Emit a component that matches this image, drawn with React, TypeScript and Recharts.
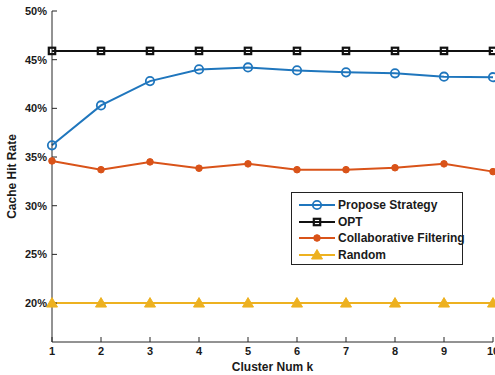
import React from "react";
import {
  LineChart,
  Line,
  XAxis,
  YAxis,
  Label,
} from "recharts";

const clusterK = [1, 2, 3, 4, 5, 6, 7, 8, 9, 10];
const proposeStrategy = [36.2, 40.3, 42.8, 44.0, 44.2, 43.9, 43.7, 43.6, 43.25, 43.2];
const optRate = [45.9, 45.9, 45.9, 45.9, 45.9, 45.9, 45.9, 45.9, 45.9, 45.9];
const collabFiltering = [34.6, 33.7, 34.5, 33.85, 34.3, 33.7, 33.7, 33.9, 34.3, 33.5];
const randomRate = [20, 20, 20, 20, 20, 20, 20, 20, 20, 20];
const yTicks = [20, 25, 30, 35, 40, 45, 50];

const data = clusterK.map((k, i) => ({
  k,
  propose: proposeStrategy[i],
  opt: optRate[i],
  cf: collabFiltering[i],
  random: randomRate[i],
}));

const FONT = "'Liberation Sans', Arial, Helvetica, sans-serif";
const AXIS = "#262626";

type Marker = "circle" | "square" | "dot" | "triangle";

const series: { key: string; name: string; color: string; marker: Marker }[] = [
  { key: "propose", name: "Propose Strategy", color: "#1F76BD", marker: "circle" },
  { key: "opt", name: "OPT", color: "#111111", marker: "square" },
  { key: "cf", name: "Collaborative Filtering", color: "#D95319", marker: "dot" },
  { key: "random", name: "Random", color: "#EDB120", marker: "triangle" },
];

function drawMarker(marker: Marker, color: string, cx: number, cy: number, key?: string) {
  switch (marker) {
    case "circle":
      return <circle key={key} cx={cx} cy={cy} r={4.2} fill="none" stroke={color} strokeWidth={1.8} />;
    case "square":
      return (
        <rect key={key} x={cx - 3.2} y={cy - 3.2} width={6.4} height={6.4} fill="none" stroke={color} strokeWidth={2.2} />
      );
    case "dot":
      return <circle key={key} cx={cx} cy={cy} r={3.3} fill={color} stroke={color} />;
    case "triangle":
      return (
        <polygon
          key={key}
          points={`${cx},${cy - 5.5} ${cx - 5.5},${cy + 4} ${cx + 5.5},${cy + 4}`}
          fill={color}
          stroke={color}
          strokeWidth={1}
        />
      );
  }
}

// legend drawn as a plain overlay so the plot area keeps its size
function LegendBox() {
  return (
    <div
      style={{
        position: "absolute",
        left: 291,
        top: 192,
        boxSizing: "border-box",
        width: 172,
        height: 73,
        border: "1.3px solid #222",
        background: "#fff",
        padding: "4px 0 0 0",
        fontFamily: FONT,
        fontWeight: "bold",
        fontSize: 12,
        color: "#1a1a1a",
        whiteSpace: "nowrap",
      }}
    >
      {series.map((s) => (
        <div key={s.key} style={{ display: "flex", alignItems: "center", height: 16.5 }}>
          <svg width={46} height={14} style={{ flex: "none" }}>
            <line x1={7} y1={7} x2={43} y2={7} stroke={s.color} strokeWidth={2} />
            {drawMarker(s.marker, s.color, 25, 7)}
          </svg>
          <span>{s.name}</span>
        </div>
      ))}
    </div>
  );
}

const tickStyle = { fontSize: 11, fontWeight: "bold" as const, fill: "#1a1a1a", fontFamily: FONT };

export default function App() {
  return (
    <div style={{ position: "absolute", left: 0, top: 0, width: 495, height: 375, background: "#fff" }}>
      <LineChart width={495} height={375} data={data} margin={{ top: 11, right: 2, bottom: 13, left: 0 }}>
        <XAxis
          xAxisId="b"
          dataKey="k"
          type="number"
          domain={[1, 10]}
          ticks={clusterK}
          height={20}
          tickSize={-5}
          tickMargin={10}
          stroke={AXIS}
          tick={tickStyle}
          interval={0}
        >
          <Label
            value="Cluster Num k"
            position="bottom"
            offset={0}
            style={{ fontSize: 12, fontWeight: "bold", fill: "#1a1a1a", fontFamily: FONT }}
          />
        </XAxis>
        <XAxis
          xAxisId="t"
          orientation="top"
          dataKey="k"
          type="number"
          domain={[1, 10]}
          ticks={clusterK}
          height={0}
          tickSize={-5}
          stroke={AXIS}
          tickFormatter={() => ""}
          interval={0}
        />
        <YAxis
          yAxisId="l"
          type="number"
          domain={[16, 50]}
          ticks={yTicks}
          width={52}
          tickSize={-5}
          tickMargin={10}
          stroke={AXIS}
          tick={tickStyle}
          tickFormatter={(v) => `${v}%`}
          interval={0}
        >
          <Label
            value="Cache Hit Rate"
            angle={-90}
            position="insideLeft"
            offset={12}
            style={{ textAnchor: "middle", fontSize: 12, fontWeight: "bold", fill: "#1a1a1a", fontFamily: FONT }}
          />
        </YAxis>
        <YAxis
          yAxisId="r"
          orientation="right"
          type="number"
          domain={[16, 50]}
          ticks={yTicks}
          width={0}
          tickSize={-5}
          stroke={AXIS}
          tickFormatter={() => ""}
          interval={0}
        />
        {series.map((s) => (
          <Line
            key={s.key}
            xAxisId="b"
            yAxisId="l"
            dataKey={s.key}
            name={s.name}
            type="linear"
            stroke={s.color}
            strokeWidth={2}
            isAnimationActive={false}
            dot={(p: any) => drawMarker(s.marker, s.color, p.cx, p.cy, `${s.key}-${p.index}`)}
            activeDot={false}
          />
        ))}
      </LineChart>
      <LegendBox />
    </div>
  );
}
